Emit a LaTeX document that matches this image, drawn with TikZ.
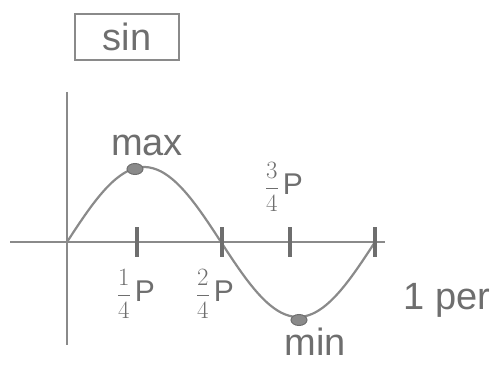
\documentclass[tikz,border=0pt]{standalone}
\usepackage{fontspec}
\setmainfont{Liberation Sans}
\usepackage{tikz}
\usetikzlibrary{positioning, arrows.meta, calc, shapes.geometric}
\definecolor{pencil}{HTML}{8A8A8A}
\definecolor{pencildark}{HTML}{6E6E6E}

\begin{document}
\begin{tikzpicture}[x=1pt, y=-1pt, font=\fontsize{38}{42}\selectfont, text=pencildark,
    axis/.style={draw=pencil, line width=1.6pt},
    wave/.style={draw=pencil, line width=2.2pt},
    tick/.style={draw=pencildark, line width=4.5pt},
    frac/.style={font=\fontsize{30}{34}\selectfont},
    dot/.style={ellipse, fill=pencil, draw=pencildark, line width=1pt, minimum width=16pt, minimum height=11pt, inner sep=0pt}]
  \useasboundingbox (0,0) rectangle (503,385);
  % title box
  \node[draw=pencil, line width=2pt, minimum width=104pt, minimum height=46pt, inner sep=2pt] (title) at (127,37) {sin};
  % axes
  \coordinate (ytop) at (67,92);
  \coordinate (ybot) at (67,345);
  \coordinate (xleft) at (10,242);
  \coordinate (xright) at (385,242);
  \draw[axis] (ytop) -- (ybot);
  \draw[axis] (xleft) -- (xright);
  % one period of the wave
  \draw[wave, domain=0:360, samples=80, smooth] plot ({67+0.85556*\x}, {242-75*sin(\x)});
  % quarter marks
  \foreach \px/\name in {137/qone, 222/qtwo, 290/qthree, 375/qfour} {
    \coordinate (\name) at (\px, 242);
    \draw[tick] ($(\name)+(0,-15)$) -- ($(\name)+(0,15)$);
  }
  \node[dot] (maxdot) at (135,169) {};
  \node[dot] (mindot) at (299,320) {};
  % labels
  \node[above=4pt of maxdot, xshift=12pt] (maxlbl) {max};
  \node[below=-2pt of mindot, xshift=16pt] (minlbl) {min};
  \node[frac] (lone) at (136,294) {$\displaystyle\frac{1}{4}\,$P};
  \node[frac] (ltwo) at (215,294) {$\displaystyle\frac{2}{4}\,$P};
  \node[frac] (lthree) at (284,187) {$\displaystyle\frac{3}{4}\,$P};
  \node (period) at (447,300) {1 per};
\end{tikzpicture}
\end{document}
